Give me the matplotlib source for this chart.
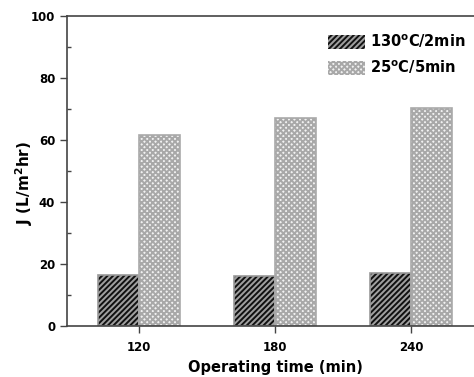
import matplotlib.pyplot as plt
import numpy as np
from matplotlib.ticker import MultipleLocator

plt.rcParams['font.family'] = ['DejaVu Sans']
plt.rcParams['font.weight'] = 'bold'
plt.rcParams['axes.labelweight'] = 'bold'
plt.rcParams['mathtext.default'] = 'bf'
plt.rcParams['hatch.linewidth'] = 1.4

times = ['120', '180', '240']
flux_130 = [16.3, 16.0, 17.1]
flux_25 = [61.5, 67.0, 70.2]
labels = [r'130$^\mathrm{o}$C/2min', r'25$^\mathrm{o}$C/5min']

fig = plt.figure(figsize=(4.74, 3.77), dpi=100)
ax = fig.add_axes([0.1414, 0.1353, 0.878, 0.822])

x = np.arange(len(times))
w = 0.3
axis_col = '#444444'

# hatch colour follows edgecolor, so outline drawn separately
ax.bar(x - w / 2, flux_130, w, color='#a0a0a0', edgecolor='#111111',
       hatch='//////', linewidth=0, label=labels[0])
ax.bar(x + w / 2, flux_25, w, color='#f2f2f2', edgecolor='#a8a8a8',
       hatch='xxxxxx', linewidth=0, label=labels[1])
ax.bar(x - w / 2, flux_130, w, fill=False, edgecolor='#999999', linewidth=1.2)
ax.bar(x + w / 2, flux_25, w, fill=False, edgecolor='#aaaaaa', linewidth=1.2)

ax.set_xlim(-0.53, 2.53)
ax.set_ylim(0, 100)
ax.set_xticks(x)
ax.set_xticklabels(times)
ax.yaxis.set_major_locator(MultipleLocator(20))
ax.yaxis.set_minor_locator(MultipleLocator(10))
ax.tick_params(axis='both', which='major', direction='out', length=5,
               width=1, color=axis_col, labelsize=8.5)
ax.tick_params(axis='y', which='minor', direction='in', length=3,
               width=1, color=axis_col)
ax.tick_params(axis='x', pad=6)

for s in ax.spines.values():
    s.set_color(axis_col)
    s.set_linewidth(1.2)

ax.set_xlabel('Operating time (min)', fontsize=10.5, labelpad=4)
ax.set_ylabel(r'J (L/m$^2$hr)', fontsize=11)
ax.yaxis.set_label_coords(-0.078, 0.46)

ax.legend(loc='upper right', bbox_to_anchor=(0.99, 0.99), frameon=False,
          fontsize=10.5, handlelength=2.5, handleheight=1.1, handletextpad=0.4,
          labelspacing=0.55)

plt.savefig('out.png', dpi=100)
